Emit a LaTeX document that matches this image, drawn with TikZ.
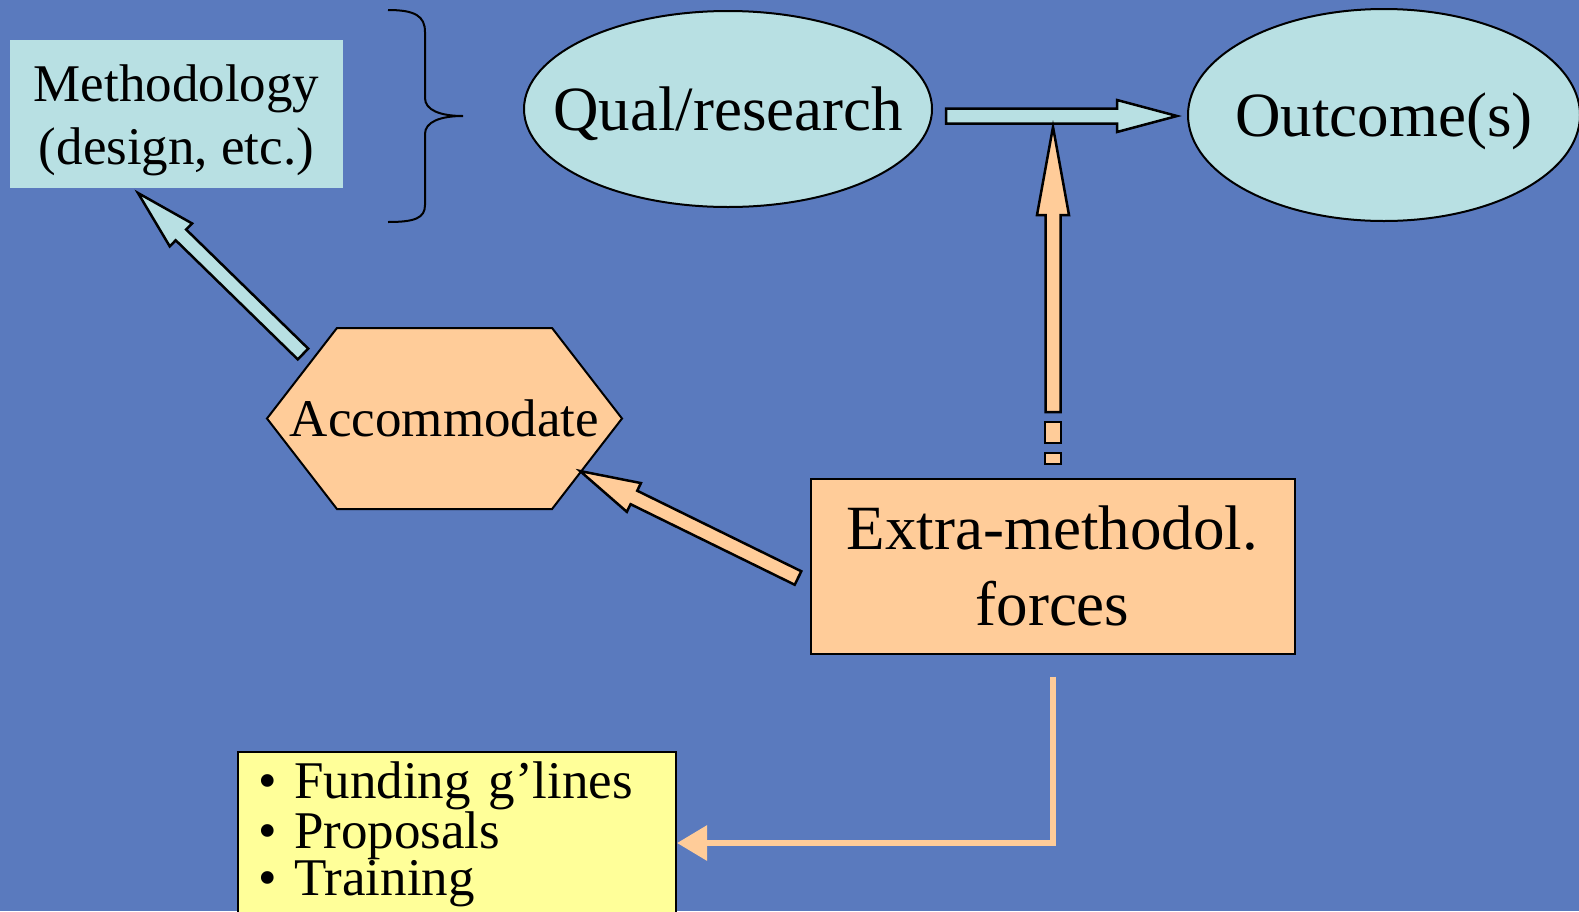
\documentclass[tikz,border=0pt]{standalone}
\usepackage{fontspec}
\setmainfont{Liberation Serif}
\usetikzlibrary{calc,shapes.geometric,shapes.symbols,arrows.meta}

\definecolor{slideblue}{RGB}{90,122,190}
\definecolor{paleteal}{RGB}{184,224,227}
\definecolor{peach}{RGB}{255,204,153}
\definecolor{paleyellow}{RGB}{255,255,153}

% fat outlined arrow: [head length]{fill}{from}{to}
\newcommand{\blockarrow}[4][60]{%
  \filldraw[fill=#2, line width=2.5pt]
    let \p1=($(#4)-(#3)$), \n1={atan2(\y1,\x1)}, \n2={veclen(\x1,\y1)} in
    [shift={(#3)}, rotate=\n1]
    (0,-7.5) -- ({\n2-#1},-7.5) -- ({\n2-#1},-16) -- (\n2,0)
    -- ({\n2-#1},16) -- ({\n2-#1},7.5) -- (0,7.5) -- cycle;
}
% text that does not widen its shape
\newcommand{\slimtext}[1]{\makebox[0pt]{#1}}

\begin{document}
\begin{tikzpicture}[x=1pt, y=-1pt,
    tealbox/.style={fill=paleteal, minimum width=333pt, minimum height=148pt,
      align=center, inner sep=0pt, font=\fontsize{53}{63}\selectfont},
    blob/.style={ellipse, draw, line width=2pt, fill=paleteal, inner sep=0pt,
      text depth=0pt, font=\fontsize{63}{74}\selectfont},
    hexbox/.style={signal, signal to=east and west, signal pointer angle=104.6,
      draw, line width=2pt, fill=peach, minimum width=355pt, minimum height=181pt,
      inner sep=0pt, text depth=0pt, font=\fontsize{53}{63}\selectfont},
    forcebox/.style={draw, line width=2pt, fill=peach, minimum width=484pt,
      minimum height=175pt, align=center, inner sep=0pt,
      font=\fontsize{63}{76}\selectfont},
    listbox/.style={draw, line width=2pt, fill=paleyellow, text width=398pt,
      align=left, inner xsep=20pt, inner ysep=10pt,
      font=\fontsize{53}{48}\selectfont},
    feed/.style={peach, line width=6pt, -{Triangle[length=30pt,width=34pt]}}]
    \useasboundingbox (0,0) rectangle (1579,911);
    \fill[slideblue] (0,0) rectangle (1579,911);

    \node[tealbox] (meth) at (176.5,114) {\rule{0pt}{50pt}Methodology\\(design, etc.)};
    \node[blob, minimum width=408pt, minimum height=196pt] (qual) at (728,109) {\slimtext{Qual/research}};
    \node[blob, minimum width=392pt, minimum height=212pt] (outc) at (1384,115) {\slimtext{Outcome(s)}};
    \node[hexbox] (accom) at (444.5,418.5) {\slimtext{Accommodate}};
    \node[forcebox] (extra) at (1052.5,566) {Extra-methodol.\\forces};
    \node[listbox, anchor=north west] (list) at (237,751)
      {\textbullet\ Funding g’lines\\\textbullet\ Proposals\\\textbullet\ Training};

    % brace
    \draw[line width=2pt] (388,10) .. controls (415,10) and (425,16) .. (425,32) -- (425,98)
      .. controls (425,110) and (440,116) .. (463,116)
      .. controls (440,116) and (425,122) .. (425,134) -- (425,205)
      .. controls (425,218) and (415,222) .. (388,222);

    \coordinate (accom tail) at (303,354);
    \coordinate (meth tip) at (138,193);
    \coordinate (qual tail) at (946,116);
    \coordinate (outc tip) at (1177,116);
    \coordinate (extra up) at (1053,412);
    \coordinate (hinge) at (1053,127);
    \coordinate (extra tail) at (798,578);
    \coordinate (accom tip) at (580,471);
    \coordinate (list in) at (677,843);

    \blockarrow{paleteal}{accom tail}{meth tip}
    \blockarrow{paleteal}{qual tail}{outc tip}
    \blockarrow[88]{peach}{extra up}{hinge}
    \filldraw[fill=peach, line width=2.5pt] (1045,422) rectangle (1061,443);
    \filldraw[fill=peach, line width=2.5pt] (1045,453) rectangle (1061,464);
    \blockarrow{peach}{extra tail}{accom tip}

    \draw[feed] ([yshift=-22pt]extra.south) |- (list in);
\end{tikzpicture}
\end{document}
